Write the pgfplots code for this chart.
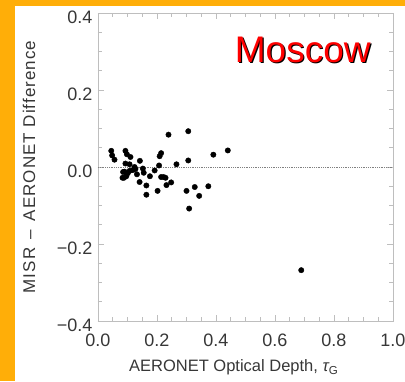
\documentclass[border=0pt]{standalone}
\usepackage{pgfplots}
\pgfplotsset{compat=1.18}
\usepackage{fontspec}
\setmainfont{Liberation Sans}
\definecolor{bgorange}{RGB}{255,174,8}
\definecolor{axgray}{RGB}{190,190,190}
\definecolor{txtgray}{RGB}{55,55,55}
\begin{document}
\begin{tikzpicture}
\fill[bgorange] (-98pt,-60pt) rectangle (307pt,321pt);
\fill[white] (-83pt,-60pt) rectangle (307pt,315pt);
\begin{axis}[
  at={(0,0)}, anchor=south west,
  scale only axis, width=295pt, height=308pt,
  xmin=0, xmax=1, ymin=-0.4, ymax=0.4,
  xtick={0,0.2,0.4,0.6,0.8,1.0},
  xticklabels={0.0,0.2,0.4,0.6,0.8,1.0},
  ytick={-0.4,-0.2,0,0.2,0.4},
  yticklabels={−0.4,−0.2,0.0,0.2,0.4},
  minor tick num=3,
  tick align=inside,
  major tick length=6pt, minor tick length=4pt,
  axis line style={axgray, line width=0.9pt},
  every tick/.style={axgray, line width=0.8pt},
  tick label style={txtgray, font=\fontsize{18}{20}\selectfont},
  xticklabel style={yshift=-9pt},
  yticklabel style={xshift=-2pt, yshift=-4pt},
  xlabel={AERONET Optical Depth, {\itshape τ}\textsubscript{G}},
  xlabel style={txtgray, font=\fontsize{16.5}{18}\selectfont, at={(axis description cs:0.46,-0.115)}, anchor=north},
  ylabel={\addfontfeature{LetterSpace=6}MISR \,–\, AERONET Difference},
  ylabel style={txtgray, font=\fontsize{17}{19}\selectfont, at={(axis description cs:-0.234,0.5)}, anchor=center},
]
\addplot[gray, densely dotted, line width=0.8pt, forget plot] coordinates {(0,0) (1,0)};
\addplot[only marks, mark=*, mark size=2.7pt, black] coordinates {
(0.045,0.042) (0.048,0.030) (0.056,0.019) (0.093,0.042) (0.098,0.033)
(0.110,0.026) (0.093,0.009) (0.107,0.007) (0.124,0.000) (0.142,0.016)
(0.085,-0.013) (0.088,-0.028) (0.096,-0.024) (0.101,-0.016) (0.107,-0.010)
(0.118,-0.008) (0.127,-0.005) (0.132,-0.019) (0.141,-0.039) (0.152,-0.004)
(0.155,-0.015) (0.164,-0.048) (0.164,-0.072) (0.176,-0.024) (0.192,-0.009)
(0.202,-0.062) (0.207,0.004) (0.209,0.028) (0.214,0.036) (0.214,-0.026)
(0.222,-0.026) (0.229,-0.028) (0.232,-0.047) (0.239,0.084) (0.248,-0.040)
(0.266,0.007) (0.300,-0.062) (0.306,0.093) (0.306,0.017) (0.309,-0.108)
(0.328,-0.052) (0.343,-0.075) (0.374,-0.050) (0.391,0.032) (0.440,0.043)
(0.083,-0.028) (0.090,-0.012) (0.689,-0.268)
};
\node[black, font=\fontsize{37}{40}\selectfont] at (axis cs:0.698,0.301) {Moscow};
\node[red, font=\fontsize{37}{40}\selectfont] at (axis cs:0.694,0.305) {Moscow};
\end{axis}
\pgfresetboundingbox
\useasboundingbox (-98pt,-60pt) rectangle (307pt,321pt);
\end{tikzpicture}
\end{document}
